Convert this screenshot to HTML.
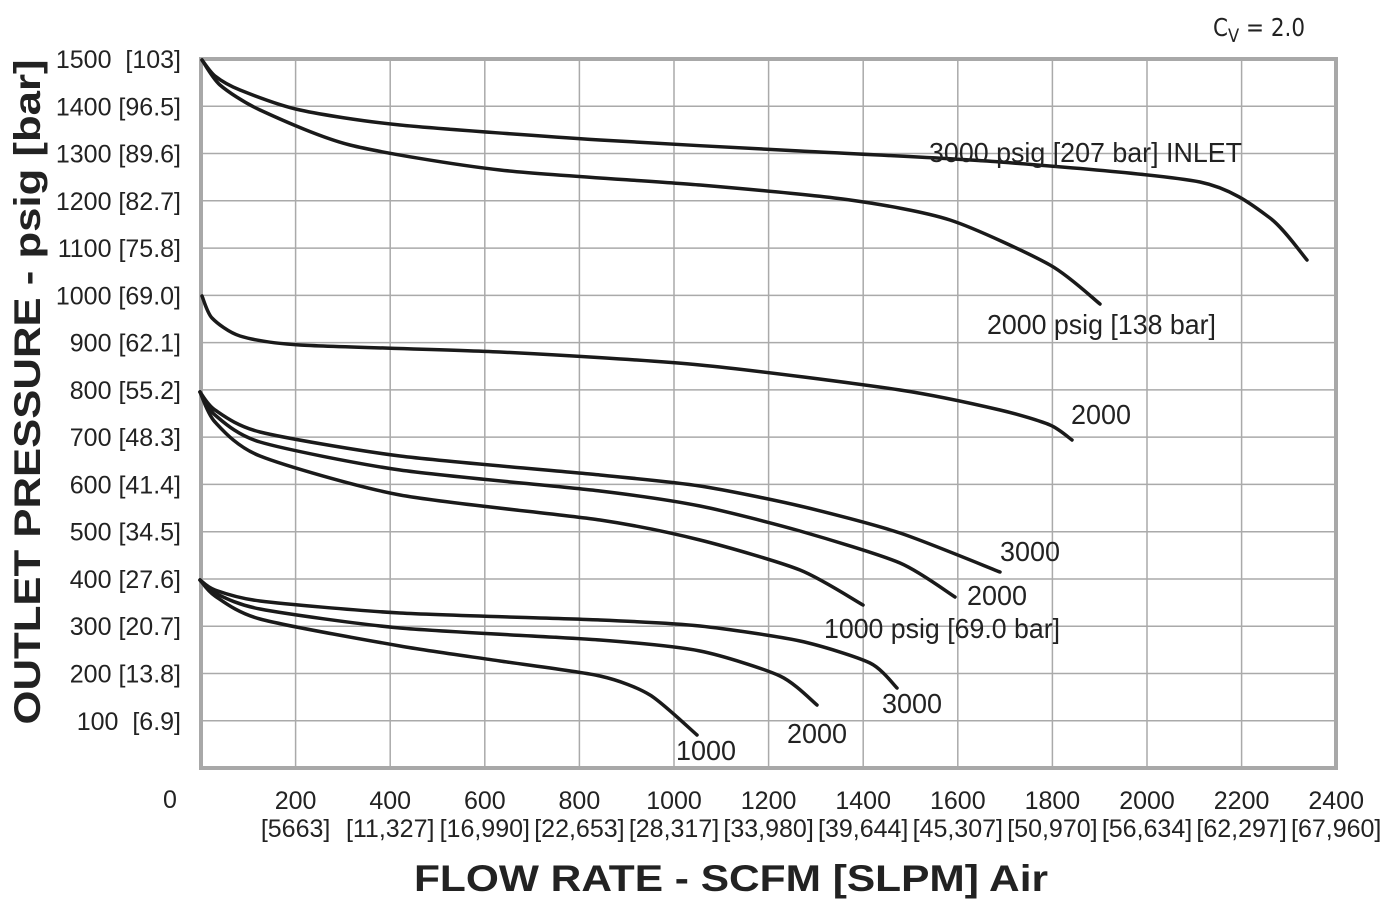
<!DOCTYPE html>
<html><head><meta charset="utf-8"><style>
body{margin:0;background:#fff}
svg{display:block}
text{font-family:"Liberation Sans Narrow","Liberation Sans",sans-serif;fill:#222;white-space:pre}
</style></head><body>
<svg id="s" width="1384" height="904" viewBox="0 0 1384 904">
<g stroke="#aaa" stroke-width="1.5" id="grid"></g>
<rect x="201" y="59" width="1135" height="709" fill="none" stroke="#a8a8a8" stroke-width="4"/>
<g id="curves" fill="none" stroke="#1a1a1a" stroke-width="3.5" stroke-linecap="round"></g>
<g font-size="25" text-anchor="end" id="ylab"></g>
<g font-size="25" text-anchor="middle" id="xlab"></g>
<text x="170" y="808" font-size="25" text-anchor="middle">0</text>
<text x="1213" y="36" font-size="25" style="font-family:'DejaVu Sans',sans-serif" textLength="92" lengthAdjust="spacingAndGlyphs">C<tspan font-size="19" dy="6">V</tspan><tspan dy="-6"> = 2.0</tspan></text>
<g font-size="28" lengthAdjust="spacingAndGlyphs">
<text x="929" y="162" textLength="313" lengthAdjust="spacingAndGlyphs">3000 psig [207 bar] INLET</text>
<text x="987" y="334" textLength="229" lengthAdjust="spacingAndGlyphs">2000 psig [138 bar]</text>
<text x="1071" y="424" textLength="60" lengthAdjust="spacingAndGlyphs">2000</text>
<text x="1000" y="561" textLength="60" lengthAdjust="spacingAndGlyphs">3000</text>
<text x="967" y="605" textLength="60" lengthAdjust="spacingAndGlyphs">2000</text>
<text x="824" y="638" textLength="236" lengthAdjust="spacingAndGlyphs">1000 psig [69.0 bar]</text>
<text x="882" y="713" textLength="60" lengthAdjust="spacingAndGlyphs">3000</text>
<text x="787" y="743" textLength="60" lengthAdjust="spacingAndGlyphs">2000</text>
<text x="676" y="760" textLength="60" lengthAdjust="spacingAndGlyphs">1000</text>
</g>
<text x="731" y="891" font-size="37" font-weight="bold" text-anchor="middle" style="font-family:'Liberation Sans',sans-serif" textLength="634" lengthAdjust="spacingAndGlyphs">FLOW RATE - SCFM [SLPM] Air</text>
<text transform="translate(40,392) rotate(-90)" font-size="37" font-weight="bold" text-anchor="middle" style="font-family:'Liberation Sans',sans-serif" textLength="665" lengthAdjust="spacingAndGlyphs">OUTLET PRESSURE - psig [bar]</text>
</svg>
<script>
var NS="http://www.w3.org/2000/svg";
function el(p,t,a,txt){var e=document.createElementNS(NS,t);for(var k in a)e.setAttribute(k,a[k]);if(txt!=null)e.textContent=txt;document.getElementById(p).appendChild(e);}
for(var i=1;i<12;i++){var x=201+i*94.6;el("grid","line",{x1:x,y1:59,x2:x,y2:768});}
for(var j=1;j<15;j++){var y=59+j*47.27;el("grid","line",{x1:201,y1:y,x2:1336,y2:y});}
var yl=["1500  [103]","1400 [96.5]","1300 [89.6]","1200 [82.7]","1100 [75.8]","1000 [69.0]","900 [62.1]","800 [55.2]","700 [48.3]","600 [41.4]","500 [34.5]","400 [27.6]","300 [20.7]","200 [13.8]","100  [6.9]"];
for(var j=0;j<15;j++){el("ylab","text",{x:181,y:59+j*47.27+9},yl[j]);}
var br=["[5663]","[11,327]","[16,990]","[22,653]","[28,317]","[33,980]","[39,644]","[45,307]","[50,970]","[56,634]","[62,297]","[67,960]"];
for(var i=1;i<=12;i++){var x=201+i*94.6;el("xlab","text",{x:x,y:809},String(i*200));el("xlab","text",{x:x,y:837},br[i-1]);}
function path(p){var d="M"+p[0][0]+","+p[0][1];var t=8;for(var i=0;i<p.length-1;i++){var p0=p[i-1]||p[i],p1=p[i],p2=p[i+1],p3=p[i+2]||p2;
d+=" C"+(p1[0]+(p2[0]-p0[0])/t)+","+(p1[1]+(p2[1]-p0[1])/t)+" "+(p2[0]-(p3[0]-p1[0])/t)+","+(p2[1]-(p3[1]-p1[1])/t)+" "+p2[0]+","+p2[1];}
el("curves","path",{d:d});}
var C=[
[[202,60],[215,76],[240,90],[300,110],[400,125],[600,140],[800,151],[1000,162],[1200,182],[1270,218],[1307,260]],
[[202,60],[220,85],[260,110],[350,145],[500,170],[700,185],[850,200],[950,220],[1050,265],[1100,304]],
[[202,296],[212,318],[240,336],[300,345],[500,352],[700,365],[900,390],[1000,410],[1050,425],[1072,440]],
[[200,392],[215,410],[260,432],[400,456],[600,475],[700,486],[800,506],[900,533],[1000,572]],
[[200,392],[215,415],[260,442],[400,470],[600,491],[700,506],[800,531],[900,563],[955,597]],
[[200,392],[215,422],[260,456],[400,495],[600,520],[700,540],[800,570],[863,605]],
[[200,580],[215,590],[260,601],[400,613],[600,620],[700,626],[800,641],[870,663],[897,688]],
[[200,580],[215,593],[260,609],[400,628],[600,640],[700,651],[780,676],[817,705]],
[[200,580],[215,596],[260,619],[400,646],[500,661],[600,676],[650,695],[697,735]]];
C.forEach(path);
</script>
</body></html>
